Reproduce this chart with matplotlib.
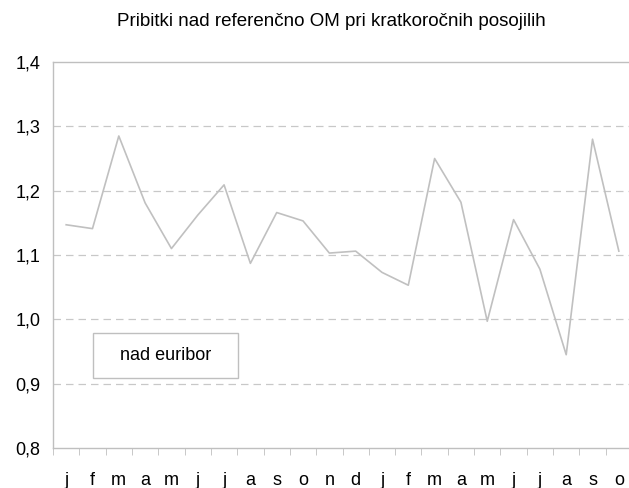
import matplotlib
matplotlib.use('Agg')
import matplotlib.pyplot as plt
import numpy as np
from matplotlib.patches import Rectangle
from matplotlib.ticker import FuncFormatter

plt.rcParams['font.family'] = ['Liberation Sans', 'DejaVu Sans']

MONTHS = ['j', 'f', 'm', 'a', 'm', 'j', 'j', 'a', 's', 'o', 'n', 'd',
          'j', 'f', 'm', 'a', 'm', 'j', 'j', 'a', 's', 'o']
NAD_EURIBOR = [1.147, 1.141, 1.285, 1.181, 1.110, 1.162, 1.209, 1.087,
               1.166, 1.153, 1.103, 1.106, 1.073, 1.053, 1.250, 1.182,
               0.997, 1.155, 1.078, 0.945, 1.280, 1.106]
Y_TICKS = [0.8, 0.9, 1.0, 1.1, 1.2, 1.3, 1.4]
SERIES_LABEL = 'nad euribor'
TITLE = 'Pribitki nad referenčno OM pri kratkoročnih posojilih'

GRAY = '#bfbfbf'

fig = plt.figure(figsize=(6.29, 4.88), dpi=100)
ax = fig.add_axes([53 / 629, 40 / 488, 579 / 629, 386 / 488])

x = np.arange(len(MONTHS))
ax.plot(x, NAD_EURIBOR, color='#c0c0c0', lw=1.2, label=SERIES_LABEL)

ax.set_xlim(-0.5, len(MONTHS) - 0.5)
ax.set_ylim(0.8, 1.4)
ax.set_yticks(Y_TICKS)
ax.yaxis.set_major_formatter(FuncFormatter(lambda v, _: f'{v:.1f}'.replace('.', ',')))
ax.tick_params(axis='y', length=0, pad=9, labelsize=13)

# month labels centred on points, tick marks between categories
ax.set_xticks(x)
ax.set_xticklabels(MONTHS)
ax.set_xticks(np.arange(-0.5, len(MONTHS)), minor=True)
ax.tick_params(axis='x', which='major', length=0, pad=17, labelsize=13)
ax.tick_params(axis='x', which='minor', length=5, color=GRAY, direction='out')

for yv in Y_TICKS[1:-1]:
    ax.axhline(yv, color='#c8c8c8', lw=0.9, dashes=(6, 4), zorder=0)

for side in ['left', 'bottom', 'top']:
    ax.spines[side].set_color(GRAY)
    ax.spines[side].set_linewidth(1.0)
ax.spines['right'].set_visible(False)

# legend: plain framed label, no line sample
ax.add_patch(Rectangle((40 / 579, 70 / 386), 145 / 579, 45 / 386,
                       transform=ax.transAxes, facecolor='white',
                       edgecolor=GRAY, lw=1.0, zorder=3))
ax.text((40 + 72.5) / 579, (70 + 22.5) / 386, SERIES_LABEL,
        transform=ax.transAxes, ha='center', va='center',
        fontsize=13, zorder=4)

fig.text(331 / 629, 1 - 22 / 488, TITLE, ha='center', va='center', fontsize=13.5)

fig.savefig('out.png', dpi=100)
